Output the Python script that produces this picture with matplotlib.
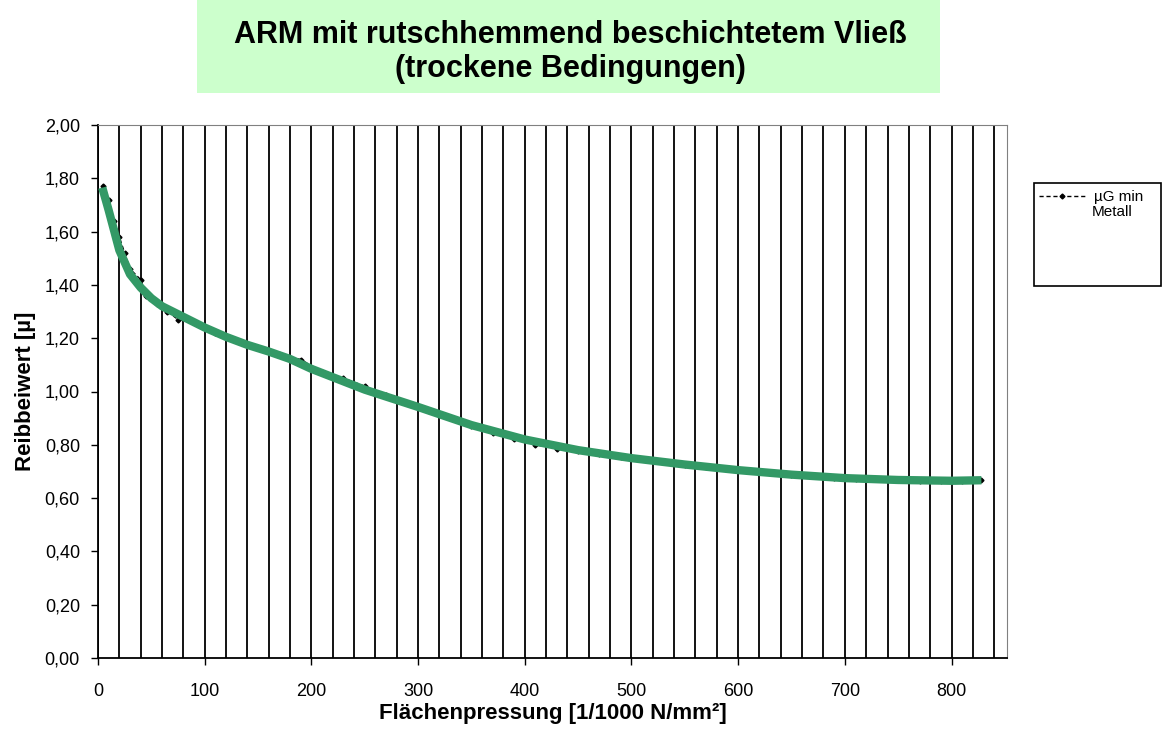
import numpy as np
import matplotlib.pyplot as plt
from matplotlib.patches import Rectangle

# measured values (µG min Metall)
druck = [5, 10, 15, 20, 25, 30, 40, 45, 55, 65, 75, 90, 110, 130, 150, 170, 190,
         210, 230, 250, 270, 290, 310, 330, 350, 370, 390, 410, 430, 450, 470,
         490, 510, 530, 550, 570, 590, 610, 630, 650, 670, 690, 710, 730, 750,
         770, 790, 810, 828]
reib = [1.77, 1.72, 1.64, 1.58, 1.52, 1.46, 1.42, 1.36, 1.33, 1.30, 1.27, 1.26,
        1.22, 1.19, 1.165, 1.14, 1.12, 1.075, 1.05, 1.02, 0.985, 0.955, 0.925,
        0.90, 0.87, 0.845, 0.82, 0.80, 0.785, 0.775, 0.765, 0.755, 0.745, 0.735,
        0.725, 0.718, 0.712, 0.703, 0.695, 0.688, 0.682, 0.677, 0.673, 0.670,
        0.668, 0.666, 0.665, 0.665, 0.667]

# trend line (green)
trend_x = [4, 10, 20, 30, 40, 50, 60, 80, 100, 120, 140, 160, 180, 200, 250,
           300, 350, 400, 450, 500, 550, 600, 650, 700, 750, 800, 828]
trend_y = [1.765, 1.68, 1.53, 1.44, 1.39, 1.35, 1.32, 1.28, 1.24, 1.205, 1.175,
           1.15, 1.122, 1.085, 1.007, 0.942, 0.874, 0.82, 0.78, 0.75, 0.726,
           0.705, 0.688, 0.675, 0.668, 0.665, 0.667]

yticks = [0.0, 0.2, 0.4, 0.6, 0.8, 1.0, 1.2, 1.4, 1.6, 1.8, 2.0]
xticks = [0, 100, 200, 300, 400, 500, 600, 700, 800]

plt.rcParams['font.family'] = ['Liberation Sans', 'DejaVu Sans']

fig = plt.figure(figsize=(11.64, 7.31), dpi=100)
ax = fig.add_axes([98/1164, 1-658/731, (1007-98)/1164, (658-125)/731])

# vertical grid every 20
for gx in range(0, 841, 20):
    ax.axvline(gx, color='black', lw=1.3, zorder=1)

ax.plot(druck, reib, color='black', ls='--', lw=1, marker='D', ms=2.5,
        dashes=(3, 2), zorder=2, label='µG min')
ax.plot(trend_x, trend_y, color='#339966', lw=6, solid_capstyle='butt', zorder=3)

ax.set_xlim(0, 852)
ax.set_ylim(0, 2.0)
ax.set_xticks(xticks)
ax.set_yticks(yticks)
ax.set_yticklabels([('%.2f' % v).replace('.', ',') for v in yticks])
ax.tick_params(axis='both', labelsize=13, length=5, width=1, direction='out')
ax.tick_params(axis='x', pad=13)
ax.tick_params(axis='y', pad=8)
for s in ['top', 'right']:
    ax.spines[s].set_color('#808080')
ax.spines['left'].set_linewidth(1.3)
ax.spines['bottom'].set_linewidth(1.3)

ax.set_xlabel('Flächenpressung [1/1000 N/mm²]', fontsize=16, fontweight='bold', labelpad=2)
ax.set_ylabel('Reibbeiwert [µ]', fontsize=16, fontweight='bold', labelpad=6)

# title box
fig.patches.append(Rectangle((197/1164, 1-93/731), (940-197)/1164, 93/731,
                             transform=fig.transFigure, facecolor='#CCFFCC',
                             edgecolor='none', zorder=0))
fig.text(570/1164, 1-35/731, 'ARM mit rutschhemmend beschichtetem Vließ',
         ha='center', va='center', fontsize=22, fontweight='bold')
fig.text(570/1164, 1-69/731, '(trockene Bedingungen)',
         ha='center', va='center', fontsize=22, fontweight='bold')

# legend box
fig.patches.append(Rectangle((1034/1164, 1-286/731), (1161-1034)/1164, (286-183)/731,
                             transform=fig.transFigure, facecolor='white',
                             edgecolor='black', lw=1.2, zorder=0))
leg = fig.legend(loc='upper left', bbox_to_anchor=(1036/1164, 1-187/731),
                 frameon=False, fontsize=11, handlelength=3.0, handletextpad=0.6,
                 borderaxespad=0, borderpad=0.2)
fig.text(1092/1164, 1-212/731, 'Metall', ha='left', va='center', fontsize=11)

fig.savefig('out.png', dpi=100)
